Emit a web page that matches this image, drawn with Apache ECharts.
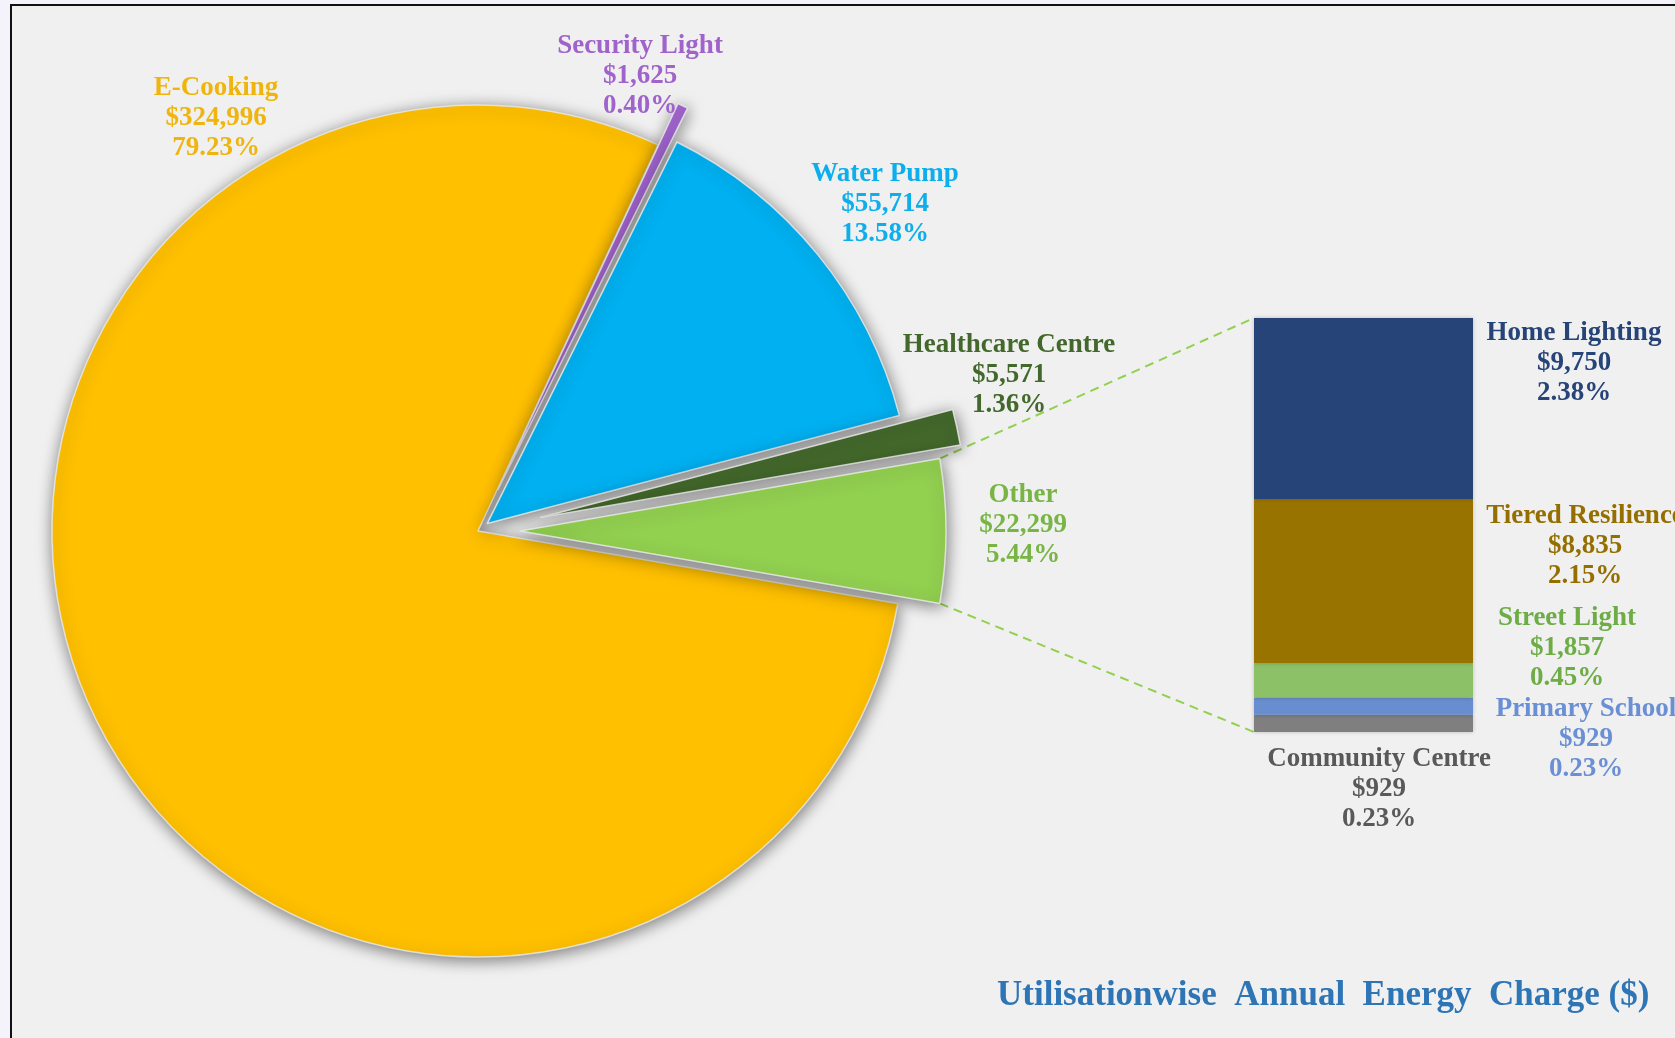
<!DOCTYPE html>
<html>
<head>
<meta charset="utf-8">
<script src="https://cdn.jsdelivr.net/npm/echarts@6/dist/echarts.min.js"></script>
<style>
  html, body { margin: 0; padding: 0; width: 1675px; height: 1038px; overflow: hidden; background: #f4f2fa; }
  #frame { position: absolute; left: 10px; top: 4px; width: 1700px; height: 1100px; background: #f0f0f0;
           border-left: 2px solid #111; border-top: 2px solid #111; }
  #chart { position: absolute; left: 0; top: 0; width: 1675px; height: 1038px; }
</style>
</head>
<body>
<div id="frame"></div>
<div id="chart"></div>
<script>
// Pie categories, clockwise from just below 3 o'clock
const pieNames = ['E-Cooking', 'Security Light', 'Water Pump', 'Healthcare Centre', 'Other'];
const pieValues = [324996, 1625, 55714, 5571, 22299];

// Breakdown of "Other", from the bottom of the stacked bar to the top
const barNames = ['Community Centre', 'Primary School', 'Street Light', 'Tiered Resilience', 'Home Lighting'];
const barValues = [929, 929, 1857, 8835, 9750];

const chartTitle = 'Utilisationwise  Annual  Energy  Charge ($)';

// ---- styling & layout ----
const FONT = "'Liberation Serif', 'Times New Roman', serif";
const pieColors = ['#FFC000', '#A366D1', '#00B0F0', '#43682B', '#92D050'];
const pieLabelColors = ['#EFB50E', '#A063CC', '#0DAEEC', '#43682B', '#78B545'];
const pieExplode = [0, 46, 12, 64, 42];
const pieLabelPos = [[216, 118], [640, 76], [885, 204], [1009, 375], [1023, 525]];
const barColors = ['#7F7F7F', '#698ED0', '#8CC168', '#997300', '#264478'];
const barLabelColors = ['#595959', '#6A8FD4', '#6EAD46', '#946F00', '#264478'];
const barLabelPos = [[1379, 789], [1586, 739], [1567, 648], [1585, 546], [1574, 363]];
const PIE_C = [478, 531];
const PIE_R = 426;
const GRID = { left: 1254, top: 318, width: 219, height: 414 };

const total = pieValues.reduce((a, b) => a + b, 0);
const barTotal = barValues.reduce((a, b) => a + b, 0);
const money = v => '$' + v.toLocaleString('en-US');
const pct = v => (v / total * 100).toFixed(2) + '%';
const labelText = (name, v) => name + '\n' + money(v) + '\n' + pct(v);

// "Other" sits centred on 3 o'clock
const startAngle = -(pieValues[4] / total * 360) / 2;

const labelFont = { fontFamily: FONT, fontSize: 27, fontWeight: 'bold', lineHeight: 30 };

// One pie layer per slice so every slice can be pulled out by its own distance
const sliceCenters = [];
let cum = 0;
const pieSeries = pieNames.map((name, i) => {
  const mid = startAngle - (cum + pieValues[i] / 2) / total * 360;
  cum += pieValues[i];
  const rad = mid * Math.PI / 180;
  const cx = PIE_C[0] + Math.cos(rad) * pieExplode[i];
  const cy = PIE_C[1] - Math.sin(rad) * pieExplode[i];
  sliceCenters.push([cx, cy]);
  return {
    type: 'pie',
    center: [cx, cy],
    radius: PIE_R,
    startAngle: startAngle,
    clockwise: true,
    avoidLabelOverlap: false,
    silent: true,
    animation: false,
    z: 2,
    data: pieNames.map((n, j) => ({
      name: n,
      value: pieValues[j],
      itemStyle: j === i
        ? { color: pieColors[j], borderColor: 'rgba(232,232,232,0.85)', borderWidth: 1.5,
            shadowBlur: 16, shadowColor: 'rgba(0,0,0,0.5)', shadowOffsetX: 1, shadowOffsetY: 3 }
        : { color: 'rgba(0,0,0,0)', borderWidth: 0 },
      label: { show: j === i }
    })),
    label: Object.assign({
      position: 'outside',
      color: pieLabelColors[i],
      align: 'center',
      formatter: p => labelText(p.name, p.value)
    }, labelFont),
    labelLine: { show: false },
    labelLayout: () => ({ x: pieLabelPos[i][0], y: pieLabelPos[i][1], align: 'center', verticalAlign: 'middle' })
  };
});

const barSeries = barNames.map((name, i) => ({
  type: 'bar',
  name: name,
  stack: 'other',
  barWidth: '100%',
  data: [barValues[i]],
  silent: true,
  animation: false,
  itemStyle: { color: barColors[i], shadowBlur: 4, shadowColor: 'rgba(0,0,0,0.22)' },
  label: Object.assign({
    show: true,
    color: barLabelColors[i],
    align: 'center',
    formatter: () => labelText(name, barValues[i])
  }, labelFont),
  labelLayout: () => ({ x: barLabelPos[i][0], y: barLabelPos[i][1], align: 'center', verticalAlign: 'middle' })
}));

const chart = echarts.init(document.getElementById('chart'), null, { renderer: 'canvas' });
chart.setOption({
  backgroundColor: 'transparent',
  animation: false,
  title: {
    text: chartTitle,
    left: 992,
    top: 973,
    textStyle: { fontFamily: FONT, fontSize: 35, fontWeight: 'bold', color: '#2E75B6' }
  },
  grid: Object.assign({}, GRID),
  xAxis: { type: 'category', data: ['Other'], show: false },
  yAxis: { type: 'value', min: 0, max: barTotal, show: false },
  series: pieSeries.concat(barSeries)
});

// Dashed connectors from the "Other" slice to the breakdown bar
const oi = pieNames.length - 1;
const otherSpan = pieValues[oi] / total * 360;
const a0 = (startAngle + otherSpan) * Math.PI / 180;   // upper edge of "Other"
const a1 = startAngle * Math.PI / 180;                 // lower edge of "Other"
const oc = sliceCenters[oi];
const pTop = chart.convertToPixel({ gridIndex: 0 }, ['Other', barTotal]);
const pBot = chart.convertToPixel({ gridIndex: 0 }, ['Other', 0]);
const lineStyle = { stroke: '#92D050', lineWidth: 2, lineDash: [9, 6] };
chart.setOption({
  graphic: [
    { type: 'line', silent: true, z: 1,
      shape: { x1: oc[0] + Math.cos(a0) * PIE_R, y1: oc[1] - Math.sin(a0) * PIE_R, x2: GRID.left, y2: pTop[1] },
      style: lineStyle },
    { type: 'line', silent: true, z: 1,
      shape: { x1: oc[0] + Math.cos(a1) * PIE_R, y1: oc[1] - Math.sin(a1) * PIE_R, x2: GRID.left, y2: pBot[1] },
      style: lineStyle }
  ]
});
</script>
</body>
</html>
